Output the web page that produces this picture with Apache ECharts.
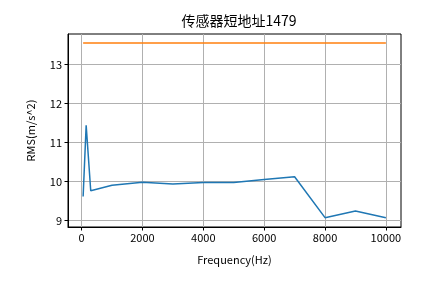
<!DOCTYPE html>
<html><head><meta charset="utf-8">
<script src="https://cdn.jsdelivr.net/npm/echarts@6/dist/echarts.min.js"></script>
<style>html,body{margin:0;padding:0;background:#fff}#c{width:445px;height:283px}</style>
</head><body><div id="c"></div>
<script>
const freq = [50, 150, 300, 1000, 2000, 3000, 4000, 5000, 6000, 7000, 8000, 9000, 10000];
const rms = [9.61, 11.44, 9.76, 9.90, 9.98, 9.93, 9.97, 9.97, 10.05, 10.12, 9.07, 9.24, 9.07];
const limitValue = 13.55;
const limitX = [50, 10000];
const xTicks = [0, 2000, 4000, 6000, 8000, 10000];
const yTicks = [9, 10, 11, 12, 13];
const title = '传感器短地址1479';
const xName = 'Frequency(Hz)';
const yName = 'RMS(m/s^2)';

const font = "'Noto Sans CJK SC', sans-serif";
const chart = echarts.init(document.getElementById('c'), null, {renderer: 'canvas'});
chart.setOption({
  animation: false,
  backgroundColor: '#fff',
  title: {text: title, left: 234, top: 9, textAlign: 'center',
    textStyle: {fontFamily: font, fontSize: 14, fontWeight: 'normal', color: '#000'}},
  grid: {left: 68, right: 44, top: 34, bottom: 56, show: true, borderColor: '#000', borderWidth: 1, backgroundColor: 'transparent'},
  xAxis: {type: 'value', min: -447, max: 10497,
    name: xName, nameLocation: 'middle', nameGap: 27,
    nameTextStyle: {fontFamily: font, fontSize: 11, color: '#000'},
    axisLine: {show: true, onZero: false, lineStyle: {color: '#000', width: 1}},
    axisTick: {show: true, customValues: xTicks, length: 3.5, lineStyle: {color: '#000'}},
    axisLabel: {customValues: xTicks, formatter: v => String(v), fontFamily: font, fontSize: 11, color: '#000', margin: 5},
    splitLine: {show: true, lineStyle: {color: '#b0b0b0', width: 1}}},
  yAxis: {type: 'value', min: 8.83, max: 13.78,
    name: yName, nameLocation: 'middle', nameGap: 32, nameRotate: 90,
    nameTextStyle: {fontFamily: font, fontSize: 11, color: '#000'},
    axisLine: {show: true, onZero: false, lineStyle: {color: '#000', width: 1}},
    axisTick: {show: true, customValues: yTicks, length: 3.5, lineStyle: {color: '#000'}},
    axisLabel: {customValues: yTicks, formatter: v => String(v), fontFamily: font, fontSize: 11, color: '#000', margin: 6},
    splitLine: {show: true, lineStyle: {color: '#b0b0b0', width: 1}}},
  series: [
    {type: 'line', data: freq.map((f, i) => [f, rms[i]]), showSymbol: false,
      lineStyle: {color: '#1f77b4', width: 1.5}, itemStyle: {color: '#1f77b4'}},
    {type: 'line', data: limitX.map(f => [f, limitValue]), showSymbol: false,
      lineStyle: {color: '#ff7f0e', width: 1.5}, itemStyle: {color: '#ff7f0e'}}
  ]
});
</script></body></html>
